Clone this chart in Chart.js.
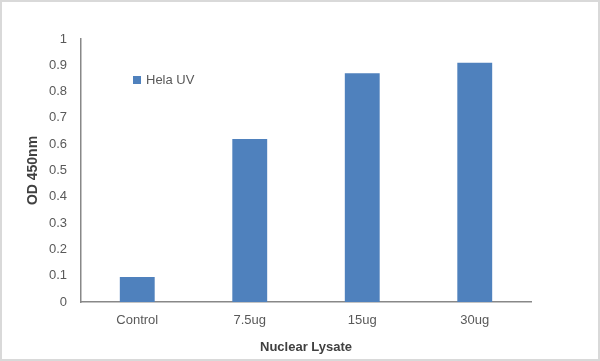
<!DOCTYPE html>
<html>
<head>
<meta charset="utf-8">
<script src="https://cdn.jsdelivr.net/npm/chart.js@4"></script>
<style>
    body { margin: 0; background: #fff; }
    #wrap { position: relative; width: 600px; height: 361px; }
    #frame {
        position: absolute; left: 0; top: 0; width: 600px; height: 361px;
        box-sizing: border-box; border: 2px solid #d9d9d9; pointer-events: none;
    }
</style>
</head>
<body>
<div id="wrap">
    <canvas id="odChart" width="600" height="361"></canvas>
    <div id="frame"></div>
</div>
<script>
// Chart data
const categories = ['Control', '7.5ug', '15ug', '30ug'];
const helaUV = [0.095, 0.62, 0.87, 0.91];
const yTicks = [0, 0.1, 0.2, 0.3, 0.4, 0.5, 0.6, 0.7, 0.8, 0.9, 1];

const barColor = '#4f81bd';
const textColor = '#595959';
const fontFamily = '"Liberation Sans", Arial, sans-serif';

// Legend drawn inside the plot area, top-left
const insideLegend = {
    id: 'insideLegend',
    afterDraw(chart) {
        const ctx = chart.ctx;
        const area = chart.chartArea;
        const ds = chart.data.datasets[0];
        const x = area.left + 52;
        const y = area.top + 41;
        ctx.save();
        ctx.fillStyle = ds.backgroundColor;
        ctx.fillRect(x, y - 4, 8, 8);
        ctx.fillStyle = textColor;
        ctx.font = '13px ' + fontFamily;
        ctx.textBaseline = 'middle';
        ctx.fillText(ds.label, x + 13, y);
        ctx.restore();
    }
};

new Chart(document.getElementById('odChart'), {
    type: 'bar',
    data: {
        labels: categories,
        datasets: [{
            label: 'Hela UV',
            data: helaUV,
            backgroundColor: barColor,
            borderWidth: 0,
            barPercentage: 0.31,
            categoryPercentage: 1
        }]
    },
    options: {
        responsive: false,
        animation: false,
        layout: { padding: { top: 39, right: 69, bottom: 0, left: 0 } },
        plugins: {
            legend: { display: false },
            tooltip: { enabled: false }
        },
        scales: {
            x: {
                grid: { display: false, drawTicks: false },
                border: { display: true, color: '#888888', width: 1.5 },
                ticks: { color: textColor, font: { family: fontFamily, size: 13 }, padding: 11 },
                title: {
                    display: true,
                    text: 'Nuclear Lysate',
                    color: '#404040',
                    font: { family: fontFamily, size: 13, weight: 'bold' },
                    padding: { top: 0, bottom: 6 }
                },
                afterFit(scale) { scale.height = 59; }
            },
            y: {
                min: 0,
                max: 1,
                grid: { display: false, drawTicks: false },
                border: { display: true, color: '#888888', width: 1.5 },
                afterBuildTicks(scale) {
                    scale.ticks = yTicks.map(v => ({ value: v }));
                },
                ticks: {
                    color: textColor,
                    font: { family: fontFamily, size: 13 },
                    padding: 14,
                    callback: v => String(v)
                },
                title: {
                    display: true,
                    text: 'OD 450nm',
                    color: '#404040',
                    font: { family: fontFamily, size: 14, weight: 'bold' },
                    padding: { top: 25, bottom: 0 }
                },
                afterFit(scale) { scale.width = 81; }
            }
        }
    },
    plugins: [insideLegend]
});
</script>
</body>
</html>
